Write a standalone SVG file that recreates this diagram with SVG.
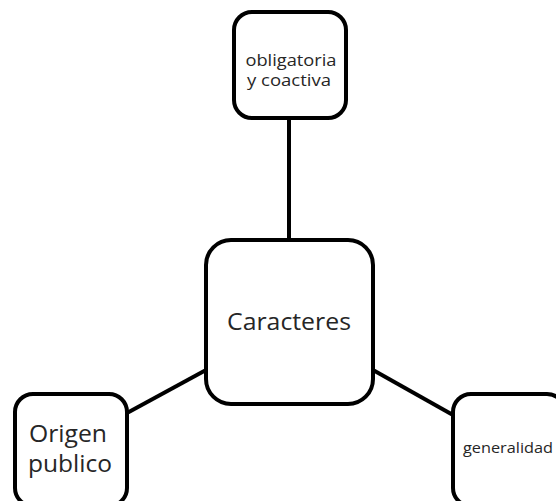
<svg xmlns="http://www.w3.org/2000/svg" width="556" height="501" viewBox="0 0 556 501">
<style>
.box{fill:#fff;stroke:#000;stroke-width:4}
.ln{stroke:#000;stroke-width:4;fill:none}
text{font-family:"Open Sans","Liberation Sans",sans-serif;fill:#262626;text-anchor:middle}
</style>
<rect width="556" height="501" fill="#fff"/>
<g id="connectors">
<line class="ln" x1="289" y1="119" x2="289" y2="240"/>
<line class="ln" x1="127" y1="413" x2="206" y2="370"/>
<line class="ln" x1="373" y1="370" x2="453" y2="415"/>
</g>
<g id="node-obligatoria">
<rect class="box" x="234" y="12" width="112" height="106" rx="18"/>
<text x="291" y="66" font-size="16" textLength="91" lengthAdjust="spacingAndGlyphs">obligatoria</text>
<text x="289" y="86" font-size="16" textLength="84" lengthAdjust="spacingAndGlyphs">y coactiva</text>
</g>
<g id="node-caracteres">
<rect class="box" x="206" y="240" width="167" height="164" rx="25"/>
<text x="289" y="330" font-size="24" textLength="124" lengthAdjust="spacingAndGlyphs">Caracteres</text>
</g>
<g id="node-origen">
<rect class="box" x="15" y="394" width="112" height="112" rx="18"/>
<text x="68" y="442" font-size="24" textLength="78" lengthAdjust="spacingAndGlyphs">Origen</text>
<text x="70" y="472" font-size="24" textLength="84" lengthAdjust="spacingAndGlyphs">publico</text>
</g>
<g id="node-generalidad">
<rect class="box" x="453" y="394" width="112" height="112" rx="18"/>
<text x="508" y="453" font-size="14" textLength="90" lengthAdjust="spacingAndGlyphs">generalidad</text>
</g>
</svg>
